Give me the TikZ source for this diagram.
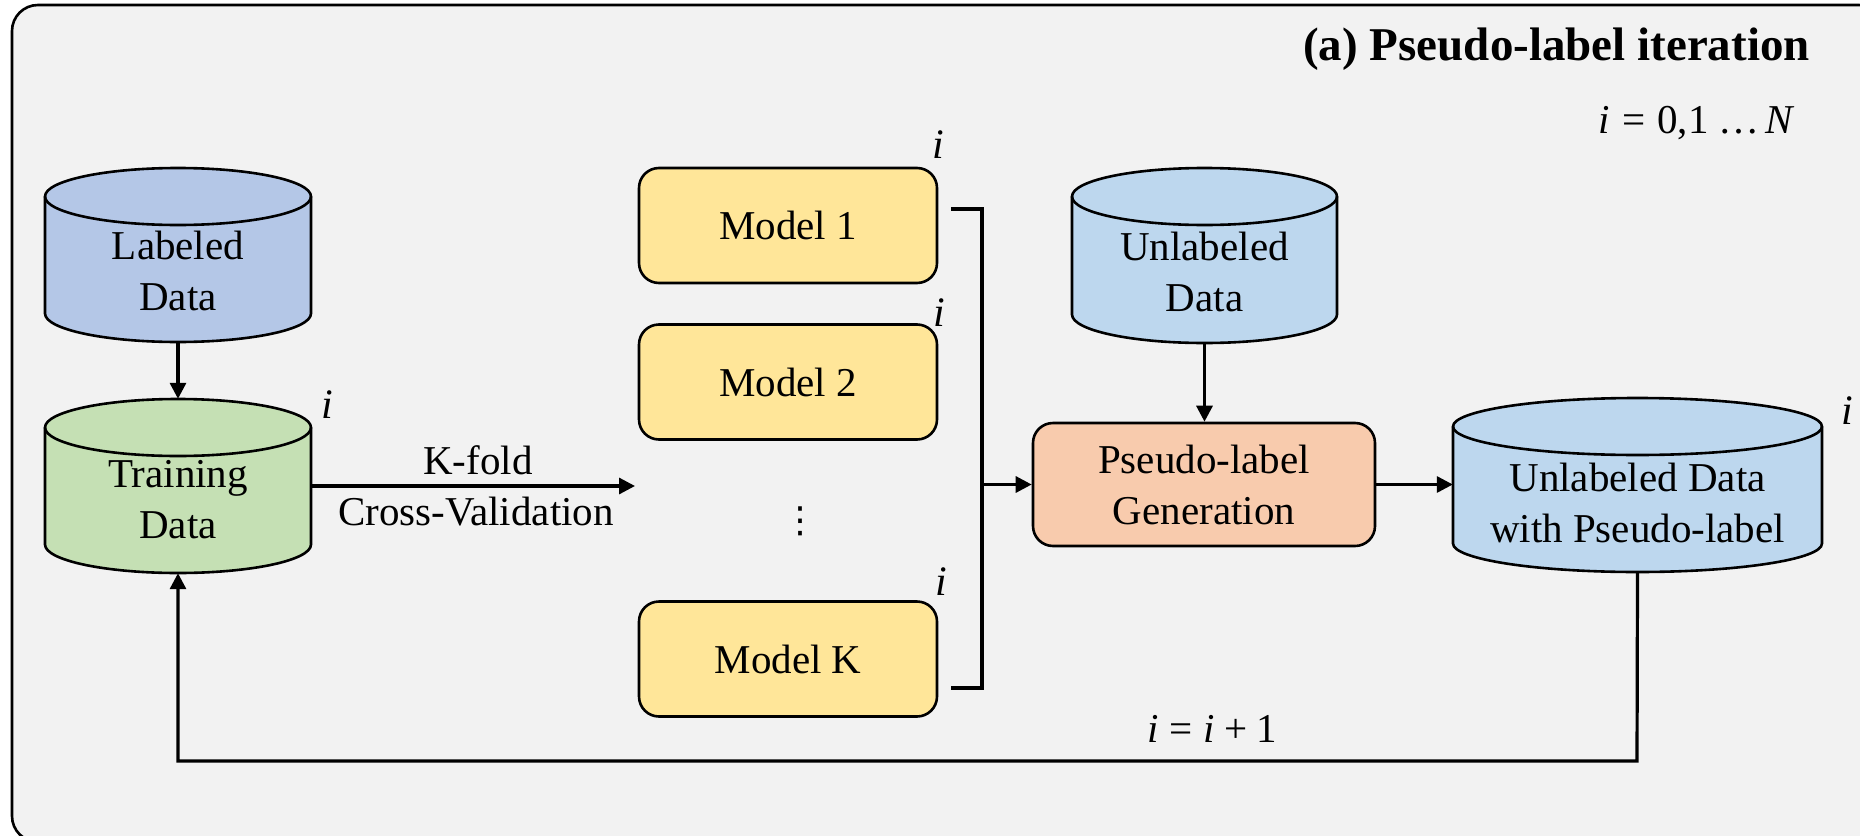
\documentclass[tikz,border=0pt]{standalone}
\usepackage{fontspec}
\setmainfont{Liberation Serif}
\newfontfamily\djv{DejaVu Sans}
\usetikzlibrary{arrows.meta,calc}
\definecolor{bgc}{HTML}{F2F2F2}
\definecolor{labc}{HTML}{B4C7E7}
\definecolor{trc}{HTML}{C5E0B4}
\definecolor{modc}{HTML}{FFE699}
\definecolor{unc}{HTML}{BDD7EE}
\definecolor{psc}{HTML}{F8CBAD}
\tikzset{
  shapeline/.style={draw=black, line width=2.6},
  txt/.style={align=center, inner sep=0, font=\fontsize{41}{51}\selectfont},
  modbox/.style={shapeline, fill=modc, rounded corners=20, minimum width=298, minimum height=115, inner sep=0, font=\fontsize{41}{51}\selectfont},
  conn/.style={line width=3.2},
  arr/.style={conn, -{Triangle[length=16,width=16]}},
  ilab/.style={inner sep=0, font=\fontsize{42}{50}\selectfont\itshape},
}
% name, xl, xr, yt, yb, colour, text centre y, text
\newcommand\mycyl[8]{%
  \pgfmathsetmacro\cylcx{(#2+#3)/2}%
  \pgfmathsetmacro\cylrx{(#3-#2)/2}%
  \pgfmathsetmacro\cylya{#4+28.5}%
  \pgfmathsetmacro\cylyb{#5-28.5}%
  \pgfmathsetmacro\cylcy{(#4+#5)/2}%
  \filldraw[fill=#6, shapeline] (#2,\cylya) -- (#2,\cylyb)
    arc[start angle=180, end angle=360, x radius=\cylrx pt, y radius=28.5pt]
    -- (#3,\cylya)
    arc[start angle=0, end angle=180, x radius=\cylrx pt, y radius=28.5pt] -- cycle;
  \draw[shapeline] (#2,\cylya) arc[start angle=180, end angle=360, x radius=\cylrx pt, y radius=28.5pt];
  \node[inner sep=0, minimum width={#3-#2}, minimum height={#5-#4}] (#1) at (\cylcx,\cylcy) {};
  \node[txt] (#1-t) at (\cylcx,#7) {#8};
}
\begin{document}
\begin{tikzpicture}[x=1pt, y=-1pt]
\useasboundingbox (0,0) rectangle (1860,835);
\clip (0,0) rectangle (1860,835);
\fill[white] (0,0) rectangle (1860,835);
\draw[fill=bgc, line width=2.6, rounded corners=26] (12,5) rectangle (1885,842);

% title
\node[anchor=base east, inner sep=0, font=\fontsize{47}{52}\selectfont\bfseries] (title) at (1810,60) {(a) Pseudo-label iteration};
\node[anchor=base east, inner sep=0, font=\fontsize{41}{50}\selectfont] (range) at (1795,133) {\textit{i}\hspace{12pt}=\hspace{12pt}0,1\hspace{10pt}…\hspace{6pt}\textit{N}};

% cylinders
\mycyl{lab}{45}{311}{168}{342}{labc}{271}{Labeled\\Data}
\mycyl{tr}{45}{311}{399}{573}{trc}{500}{Training\\Data}
\mycyl{un}{1072}{1337}{168}{343}{unc}{272}{Unlabeled\\Data}
\mycyl{big}{1453}{1822}{398}{572}{unc}{503}{Unlabeled Data\\with Pseudo-label}

% models
\node[modbox] (m1) at (788,225.5) {Model 1};
\node[modbox] (m2) at (788,382) {Model 2};
\node[modbox] (mk) at (788,659) {Model K};
\node[inner sep=0, font=\fontsize{36}{40}\selectfont\djv] (dots) at (800,521) {⋮};

% pseudo-label generation
\node[shapeline, fill=psc, rounded corners=20, minimum width=342, minimum height=123, inner sep=0, txt] (pg) at (1204,484.5) {Pseudo-label\\Generation};

% index labels
\node[ilab] (itr) at (327,405) {i};
\node[ilab] (im1) at (938,145) {i};
\node[ilab] (im2) at (939,313) {i};
\node[ilab] (imk) at (941,582) {i};
\node[ilab] (ibig) at (1847,411) {i};

% connectors
\draw[arr] (lab.south) -- (tr.north);
\coordinate (kf) at (635,486);
\draw[arr] (tr.east |- kf) -- (kf);
\node[anchor=base, inner sep=0, font=\fontsize{41}{50}\selectfont] (kfold) at (478,474) {K-fold};
\node[anchor=base, inner sep=0, font=\fontsize{41}{50}\selectfont] (cv) at (476,525) {Cross-Validation};

\coordinate (b1) at (951,209);
\coordinate (b2) at (982,209);
\coordinate (b3) at (982,688);
\coordinate (b4) at (951,688);
\draw[conn] (b1) -- (b2) -- (b3) -- (b4);
\draw[arr] (b2 |- pg.west) -- (pg.west);
\draw[arr] (un.south) -- (pg.north -| un.south);
\draw[arr] (pg.east) -- (big.west |- pg.east);

\coordinate (r1) at (1637,761);
\coordinate (r2) at (178,761);
\draw[arr] (big.south) -- (r1) -- (r2) -- (tr.south);
\node[anchor=base, inner sep=0, font=\fontsize{41}{50}\selectfont] (inc) at (1212,742) {\textit{i}\hspace{11pt}=\hspace{11pt}\textit{i}\hspace{9pt}+\hspace{9pt}1};
\end{tikzpicture}
\end{document}
